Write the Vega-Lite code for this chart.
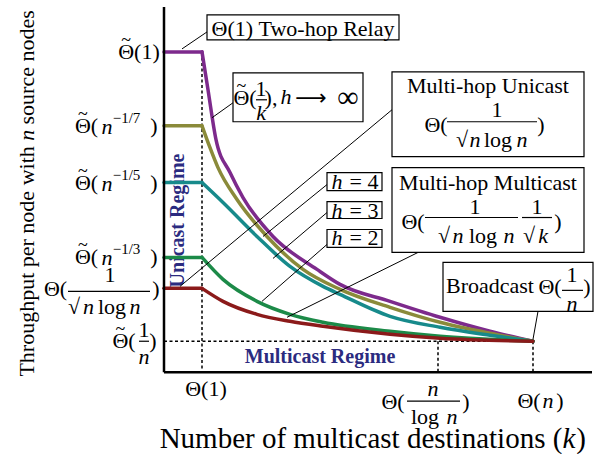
{
"$schema": "https://vega.github.io/schema/vega-lite/v6.json",
"width": 598, "height": 454, "padding": 0,
"autosize": {"type": "fit", "contains": "padding"},
"background": "white",
"config": {"view": {"stroke": null}},
"datasets": {
"curves": [
{"s":"p","g":"p0","u":0,"v":321},{"s":"p","g":"p0","u":38,"v":321},
{"s":"p","g":"p1","u":38,"v":321},{"s":"p","g":"p1","u":44,"v":283},{"s":"p","g":"p1","u":52,"v":233},{"s":"p","g":"p1","u":66,"v":200},{"s":"p","g":"p1","u":79,"v":175},{"s":"p","g":"p1","u":109,"v":136},{"s":"p","g":"p1","u":153,"v":103},{"s":"p","g":"p1","u":176,"v":88},{"s":"p","g":"p1","u":226,"v":71},{"s":"p","g":"p1","u":276,"v":55},{"s":"p","g":"p1","u":326,"v":41},{"s":"p","g":"p1","u":369,"v":31},
{"s":"o","g":"o0","u":0,"v":247},{"s":"o","g":"o0","u":38,"v":247},
{"s":"o","g":"o1","u":38,"v":247},{"s":"o","g":"o1","u":46,"v":225},{"s":"o","g":"o1","u":54,"v":205},{"s":"o","g":"o1","u":73,"v":173},{"s":"o","g":"o1","u":103,"v":136},{"s":"o","g":"o1","u":139,"v":103},{"s":"o","g":"o1","u":176,"v":83},{"s":"o","g":"o1","u":226,"v":65},{"s":"o","g":"o1","u":276,"v":50},{"s":"o","g":"o1","u":326,"v":39},{"s":"o","g":"o1","u":369,"v":31},
{"s":"t","g":"t0","u":0,"v":190},{"s":"t","g":"t0","u":38,"v":190},
{"s":"t","g":"t1","u":38,"v":190},{"s":"t","g":"t1","u":59,"v":170},{"s":"t","g":"t1","u":93,"v":136},{"s":"t","g":"t1","u":126,"v":106},{"s":"t","g":"t1","u":159,"v":86},{"s":"t","g":"t1","u":176,"v":78},{"s":"t","g":"t1","u":226,"v":56},{"s":"t","g":"t1","u":276,"v":45},{"s":"t","g":"t1","u":326,"v":37},{"s":"t","g":"t1","u":369,"v":31},
{"s":"g","g":"g0","u":0,"v":115},{"s":"g","g":"g0","u":38,"v":115},
{"s":"g","g":"g1","u":38,"v":115},{"s":"g","g":"g1","u":59,"v":93},{"s":"g","g":"g1","u":93,"v":71},{"s":"g","g":"g1","u":126,"v":58},{"s":"g","g":"g1","u":159,"v":50},{"s":"g","g":"g1","u":226,"v":41},{"s":"g","g":"g1","u":276,"v":36},{"s":"g","g":"g1","u":369,"v":31},
{"s":"r","g":"r0","u":0,"v":84},{"s":"r","g":"r0","u":38,"v":84},
{"s":"r","g":"r1","u":38,"v":84},{"s":"r","g":"r1","u":59,"v":71},{"s":"r","g":"r1","u":93,"v":58},{"s":"r","g":"r1","u":126,"v":51},{"s":"r","g":"r1","u":159,"v":46},{"s":"r","g":"r1","u":226,"v":38},{"s":"r","g":"r1","u":276,"v":34},{"s":"r","g":"r1","u":369,"v":31}
],
"segs": [
{"k":"axis","u":0,"v":0,"u2":0,"v2":366},{"k":"axis","u":0,"v":0,"u2":428,"v2":0},
{"k":"dash","u":0,"v":31,"u2":369,"v2":31},{"k":"dash","u":38,"v":321,"u2":38,"v2":0},{"k":"dash","u":274,"v":31,"u2":274,"v2":0},{"k":"dash","u":369,"v":31,"u2":369,"v2":0},
{"k":"lead","u":18,"v":324,"u2":43,"v2":341},{"k":"lead","u":48,"v":255,"u2":69,"v2":270},{"k":"lead","u":16,"v":86,"u2":228,"v2":263},{"k":"lead","u":99,"v":136,"u2":163,"v2":188},{"k":"lead","u":109,"v":114,"u2":163,"v2":160},{"k":"lead","u":98,"v":71,"u2":163,"v2":128},{"k":"lead","u":123,"v":55,"u2":254,"v2":120},{"k":"lead","u":374,"v":61,"u2":369,"v2":33},
{"k":"bar","u":-96,"v":81,"u2":-14,"v2":81},{"k":"bar","u":-25,"v":31,"u2":-15,"v2":31},{"k":"bar","u":243,"v":-29,"u2":296,"v2":-29},{"k":"bar","u":92,"v":273,"u2":103,"v2":273},{"k":"bar","u":283,"v":251,"u2":373,"v2":251},{"k":"bar","u":261,"v":155,"u2":354,"v2":155},{"k":"bar","u":358,"v":155,"u2":388,"v2":155},{"k":"bar","u":398,"v":82,"u2":419,"v2":82}
],
"boxes": [
{"u":43,"v":358,"u2":235,"v2":333},{"u":69,"v":300,"u2":199,"v2":251},{"u":228,"v":301,"u2":420,"v2":216},{"u":228,"v":205,"u2":420,"v2":120},{"u":163,"v":200,"u2":218,"v2":182},{"u":163,"v":171,"u2":218,"v2":154},{"u":163,"v":143,"u2":218,"v2":125},{"u":279,"v":110,"u2":429,"v2":61}
],
"labels": [
{"r":"rm","u":-25,"v":321,"t":"\u0398(1)"},
{"r":"rm","u":-77.5,"v":247,"t":"\u0398("},{"r":"rm","u":-10,"v":247,"t":")"},
{"r":"rm","u":-77.5,"v":190,"t":"\u0398("},{"r":"rm","u":-10,"v":190,"t":")"},
{"r":"rm","u":-77.5,"v":115,"t":"\u0398("},{"r":"rm","u":-10,"v":115,"t":")"},
{"r":"rm","u":-108.5,"v":83,"t":"\u0398("},{"r":"rm","u":-54,"v":97,"t":"1"},{"r":"rm","u":-90,"v":65,"t":"\u221a"},{"r":"rm","u":-52,"v":65,"t":"log"},{"r":"rm","u":-8,"v":83,"t":")"},
{"r":"rm","u":-40,"v":31,"t":"\u0398("},{"r":"rm","u":-20,"v":42,"t":"1"},{"r":"rm","u":-11,"v":31,"t":")"},
{"r":"rm","u":42,"v":-17,"t":"\u0398(1)"},
{"r":"rm","u":229,"v":-30,"t":"\u0398("},{"r":"rm","u":261,"v":-45,"t":"log"},{"r":"rm","u":302,"v":-30,"t":")"},
{"r":"rm","u":365,"v":-29,"t":"\u0398("},{"r":"rm","u":396,"v":-29,"t":")"},
{"r":"rm","u":139,"v":344,"t":"\u0398(1) Two-hop Relay"},
{"r":"rm","u":81,"v":275,"t":"\u0398("},{"r":"rm","u":97,"v":284,"t":"1"},{"r":"rm","u":107,"v":275,"t":"),"},
{"r":"rm","u":324,"v":287,"t":"Multi-hop Unicast"},{"r":"rm","u":272,"v":248,"t":"\u0398("},{"r":"rm","u":333,"v":263,"t":"1"},{"r":"rm","u":298,"v":233,"t":"\u221a"},{"r":"rm","u":334,"v":233,"t":"log"},{"r":"rm","u":377,"v":248,"t":")"},
{"r":"rm","u":324,"v":190,"t":"Multi-hop Multicast"},{"r":"rm","u":249,"v":151,"t":"\u0398("},{"r":"rm","u":311,"v":166,"t":"1"},{"r":"rm","u":280,"v":136,"t":"\u221a"},{"r":"rm","u":319,"v":136,"t":"log"},{"r":"rm","u":373,"v":166,"t":"1"},{"r":"rm","u":365,"v":136,"t":"\u221a"},{"r":"rm","u":394,"v":151,"t":")"},
{"r":"rm","u":200,"v":191,"t":"= 4"},{"r":"rm","u":200,"v":162,"t":"= 3"},{"r":"rm","u":200,"v":134,"t":"= 2"},
{"r":"rm","u":326,"v":86,"t":"Broadcast"},{"r":"rm","u":386,"v":85,"t":"\u0398("},{"r":"rm","u":408,"v":97,"t":"1"},{"r":"rm","u":423,"v":85,"t":")"},
{"r":"it","u":-57,"v":246,"t":"n"},{"r":"it","u":-57,"v":189,"t":"n"},{"r":"it","u":-57,"v":114,"t":"n"},
{"r":"it","u":-75.5,"v":65,"t":"n"},{"r":"it","u":-29,"v":65,"t":"n"},{"r":"it","u":-20,"v":15,"t":"n"},
{"r":"it","u":269,"v":-17,"t":"n"},{"r":"it","u":288,"v":-45,"t":"n"},{"r":"it","u":384,"v":-29,"t":"n"},
{"r":"it","u":97,"v":260,"t":"k"},{"r":"it","u":122,"v":276,"t":"h"},
{"r":"it","u":311,"v":233,"t":"n"},{"r":"it","u":358,"v":233,"t":"n"},
{"r":"it","u":294,"v":136,"t":"n"},{"r":"it","u":345,"v":136,"t":"n"},{"r":"it","u":379,"v":136,"t":"k"},
{"r":"it","u":173,"v":191,"t":"h"},{"r":"it","u":173,"v":162,"t":"h"},{"r":"it","u":173,"v":134,"t":"h"},
{"r":"it","u":408,"v":68,"t":"n"},
{"r":"sup","u":-37.5,"v":255,"t":"\u22121/7"},{"r":"sup","u":-37.5,"v":198,"t":"\u22121/5"},{"r":"sup","u":-37.5,"v":123,"t":"\u22121/3"},
{"r":"tl","u":-37.8,"v":332,"t":"~"},{"r":"tl","u":-81.2,"v":258,"t":"~"},{"r":"tl","u":-81.2,"v":201,"t":"~"},{"r":"tl","u":-81.2,"v":126,"t":"~"},{"r":"tl","u":-43.7,"v":42,"t":"~"},{"r":"tl","u":77.3,"v":286,"t":"~"},
{"r":"arr","u":147,"v":275,"t":"\u27f6"},{"r":"big","u":184,"v":275,"t":"\u221e"},
{"r":"xt","u":197,"v":-67,"t":"Number of multicast destinations ("},{"r":"xt","u":417,"v":-67,"t":")"},
{"r":"xti","u":405,"v":-67,"t":"k"},
{"r":"yt","u":-137,"v":111,"t":"Throughput per node with"},{"r":"yt","u":-137,"v":305.5,"t":"source nodes"},
{"r":"yti","u":-137,"v":237.5,"t":"n"},
{"r":"bd","u":156,"v":15,"t":"Multicast Regime"},
{"r":"bdv","u":14,"v":152,"t":"Unicast Regime"}
]
},
"encoding": {
"x": {"field": "u", "type": "quantitative", "scale": {"domain": [-164, 434], "nice": false, "zero": false}, "axis": null},
"y": {"field": "v", "type": "quantitative", "scale": {"domain": [-81, 373], "nice": false, "zero": false}, "axis": null}
},
"layer": [
{"data": {"name": "labels"}, "transform": [{"filter": "datum.r == 'bdv'"}],
 "mark": {"type": "text", "font": "Liberation Serif", "fontSize": 20, "fontWeight": "bold", "color": "#2b2b80", "angle": 270, "align": "center", "baseline": "middle"},
 "encoding": {"text": {"field": "t"}}},
{"data": {"name": "segs"}, "transform": [{"filter": "datum.k == 'dash'"}],
 "mark": {"type": "rule", "color": "black", "strokeWidth": 1.5, "strokeDash": [3, 2.5]},
 "encoding": {"x2": {"field": "u2"}, "y2": {"field": "v2"}}},
{"data": {"name": "curves"},
 "mark": {"type": "line", "interpolate": "monotone", "strokeWidth": 3.5, "strokeCap": "round", "strokeJoin": "round"},
 "encoding": {"color": {"field": "s", "type": "nominal", "scale": {"domain": ["p", "o", "t", "g", "r"], "range": ["#7d2a8c", "#8a8a3a", "#178a8b", "#1c8a48", "#8b1a1a"]}, "legend": null},
   "detail": {"field": "g"}}},
{"data": {"name": "segs"}, "transform": [{"filter": "datum.k == 'lead'"}],
 "mark": {"type": "rule", "color": "black", "strokeWidth": 1},
 "encoding": {"x2": {"field": "u2"}, "y2": {"field": "v2"}}},
{"data": {"name": "boxes"},
 "mark": {"type": "rect", "fill": "white", "stroke": "black", "strokeWidth": 1.2},
 "encoding": {"x2": {"field": "u2"}, "y2": {"field": "v2"}}},
{"data": {"name": "segs"}, "transform": [{"filter": "datum.k == 'axis'"}],
 "mark": {"type": "rule", "color": "black", "strokeWidth": 2.5},
 "encoding": {"x2": {"field": "u2"}, "y2": {"field": "v2"}}},
{"data": {"name": "segs"}, "transform": [{"filter": "datum.k == 'bar'"}],
 "mark": {"type": "rule", "color": "black", "strokeWidth": 1.2},
 "encoding": {"x2": {"field": "u2"}, "y2": {"field": "v2"}}},
{"data": {"name": "labels"}, "transform": [{"filter": "datum.r == 'rm'"}],
 "mark": {"type": "text", "font": "Liberation Serif", "fontSize": 22, "color": "black", "align": "center", "baseline": "middle"},
 "encoding": {"text": {"field": "t"}}},
{"data": {"name": "labels"}, "transform": [{"filter": "datum.r == 'it'"}],
 "mark": {"type": "text", "font": "Liberation Serif", "fontSize": 22, "fontStyle": "italic", "color": "black", "align": "center", "baseline": "middle"},
 "encoding": {"text": {"field": "t"}}},
{"data": {"name": "labels"}, "transform": [{"filter": "datum.r == 'sup'"}],
 "mark": {"type": "text", "font": "Liberation Serif", "fontSize": 15, "color": "black", "align": "center", "baseline": "middle"},
 "encoding": {"text": {"field": "t"}}},
{"data": {"name": "labels"}, "transform": [{"filter": "datum.r == 'tl'"}],
 "mark": {"type": "text", "font": "Liberation Serif", "fontSize": 18, "color": "black", "align": "center", "baseline": "middle"},
 "encoding": {"text": {"field": "t"}}},
{"data": {"name": "labels"}, "transform": [{"filter": "datum.r == 'arr'"}],
 "mark": {"type": "text", "font": "DejaVu Sans", "fontSize": 22, "color": "black", "align": "center", "baseline": "middle"},
 "encoding": {"text": {"field": "t"}}},
{"data": {"name": "labels"}, "transform": [{"filter": "datum.r == 'big'"}],
 "mark": {"type": "text", "font": "Liberation Serif", "fontSize": 30, "color": "black", "align": "center", "baseline": "middle"},
 "encoding": {"text": {"field": "t"}}},
{"data": {"name": "labels"}, "transform": [{"filter": "datum.r == 'xt'"}],
 "mark": {"type": "text", "font": "Liberation Serif", "fontSize": 29, "color": "black", "align": "center", "baseline": "middle"},
 "encoding": {"text": {"field": "t"}}},
{"data": {"name": "labels"}, "transform": [{"filter": "datum.r == 'xti'"}],
 "mark": {"type": "text", "font": "Liberation Serif", "fontSize": 29, "fontStyle": "italic", "color": "black", "align": "center", "baseline": "middle"},
 "encoding": {"text": {"field": "t"}}},
{"data": {"name": "labels"}, "transform": [{"filter": "datum.r == 'yt'"}],
 "mark": {"type": "text", "font": "Liberation Serif", "fontSize": 22, "color": "black", "angle": 270, "align": "center", "baseline": "middle"},
 "encoding": {"text": {"field": "t"}}},
{"data": {"name": "labels"}, "transform": [{"filter": "datum.r == 'yti'"}],
 "mark": {"type": "text", "font": "Liberation Serif", "fontSize": 22, "fontStyle": "italic", "color": "black", "angle": 270, "align": "center", "baseline": "middle"},
 "encoding": {"text": {"field": "t"}}},
{"data": {"name": "labels"}, "transform": [{"filter": "datum.r == 'bd'"}],
 "mark": {"type": "text", "font": "Liberation Serif", "fontSize": 20, "fontWeight": "bold", "color": "#2b2b80", "align": "center", "baseline": "middle"},
 "encoding": {"text": {"field": "t"}}}
]
}
